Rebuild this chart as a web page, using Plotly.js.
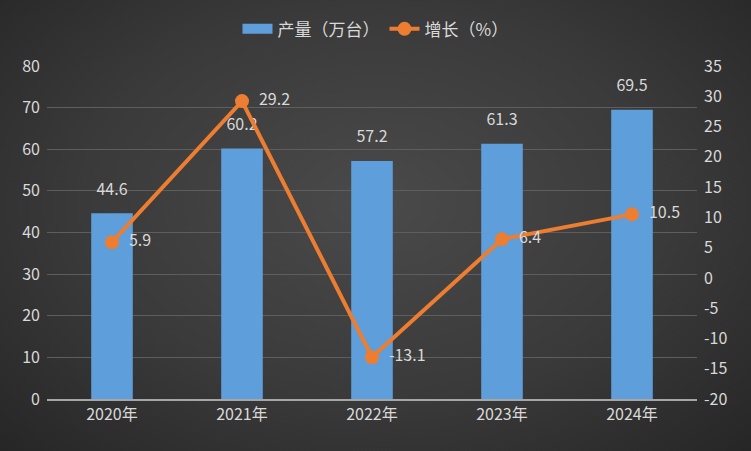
<!DOCTYPE html>
<html><head><meta charset="utf-8">
<script src="https://cdn.plot.ly/plotly-3.0.1.min.js"></script>
<style>
html,body{margin:0;padding:0;}
body{width:751px;height:451px;background:radial-gradient(ellipse at 50% 45%, #4a4a4a 0%, #3a3a3a 55%, #262626 100%);}
#chart{width:751px;height:451px;}
</style></head>
<body><div id="chart"></div>
<script>
const years = ['2020年','2021年','2022年','2023年','2024年'];
const output = [44.6, 60.2, 57.2, 61.3, 69.5];
const growth = [5.9, 29.2, -13.1, 6.4, 10.5];
const barName = '产量（万台）';
const lineName = '增长（%）';
const leftTicks = [0,10,20,30,40,50,60,70,80];
const rightTicks = [-20,-15,-10,-5,0,5,10,15,20,25,30,35];

const font = '"Noto Sans CJK SC", "Microsoft YaHei", sans-serif';
const txt = '#d9d9d9';
const barColor = '#5d9edb';

const data = [
  {type:'scatter', mode:'lines', x:[years[0]], y:[null], name:barName,
   line:{color:barColor, width:10}, showlegend:true, hoverinfo:'none'},
  {type:'bar', x:years, y:output, name:barName, showlegend:false,
   marker:{color:barColor, line:{width:0}}, hoverinfo:'none'},
  {type:'scatter', mode:'markers+text', x:years, y:output, showlegend:false,
   marker:{size:22, opacity:0}, text:output.map(v=>v.toFixed(1)), textposition:'top center',
   cliponaxis:false, textfont:{color:txt, size:16, family:font}, hoverinfo:'none'},
  {type:'scatter', mode:'lines+markers+text', x:years, y:growth, name:lineName, yaxis:'y2',
   line:{color:'#ed7d31', width:4}, marker:{color:'#ed7d31', size:14},
   text:growth.map(v=>'  '+v.toFixed(1)), textposition:'middle right', cliponaxis:false,
   textfont:{color:txt, size:16, family:font}, hoverinfo:'none'}
];

const layout = {
  width:751, height:451,
  paper_bgcolor:'rgba(0,0,0,0)', plot_bgcolor:'rgba(0,0,0,0)',
  margin:{l:47, r:54, t:66, b:52},
  font:{family:font, color:txt, size:16},
  bargap:0.68,
  showlegend:true,
  legend:{orientation:'h', x:0.5, xanchor:'center', xref:'container', y:0.935, yanchor:'middle', yref:'container',
          font:{size:17, color:txt}, traceorder:'normal'},
  xaxis:{showgrid:false, tickfont:{size:16, color:txt}, showline:true, linecolor:'#a6a6a6', linewidth:2, ticks:''},
  yaxis:{range:[0,80], tickvals:leftTicks, ticktext:leftTicks.map(String), showgrid:true, gridcolor:'#5e5e5e', gridwidth:1,
         zeroline:false, tickfont:{size:16, color:txt}, ticks:'', ticklabelstandoff:6},
  yaxis2:{overlaying:'y', side:'right', range:[-20,35], tickvals:rightTicks, ticktext:rightTicks.map(String),
          showgrid:false, zeroline:false, tickfont:{size:16, color:txt}, ticks:'', ticklabelstandoff:6}
};

Plotly.newPlot('chart', data, layout, {displayModeBar:false, staticPlot:true});
</script></body></html>
